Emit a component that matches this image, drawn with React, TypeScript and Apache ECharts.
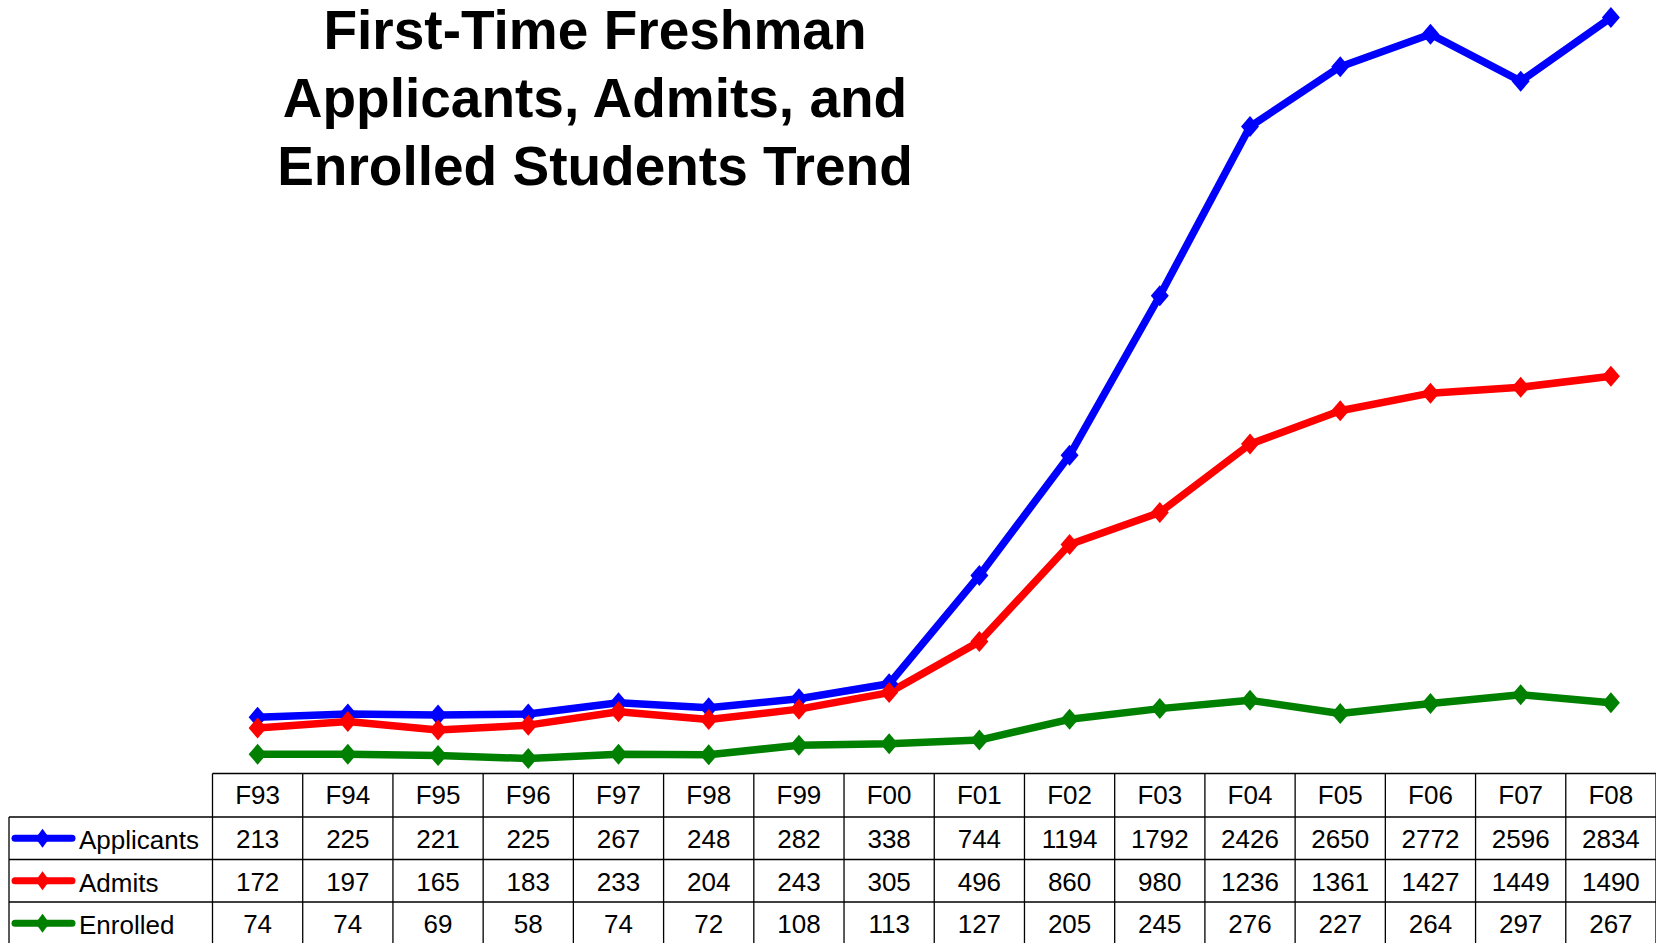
import React, { useEffect, useRef } from "react";
import * as echarts from "echarts";

const categories = ["F93", "F94", "F95", "F96", "F97", "F98", "F99", "F00", "F01", "F02", "F03", "F04", "F05", "F06", "F07", "F08"];
const applicants = [213, 225, 221, 225, 267, 248, 282, 338, 744, 1194, 1792, 2426, 2650, 2772, 2596, 2834];
const admits = [172, 197, 165, 183, 233, 204, 243, 305, 496, 860, 980, 1236, 1361, 1427, 1449, 1490];
const enrolled = [74, 74, 69, 58, 74, 72, 108, 113, 127, 205, 245, 276, 227, 264, 297, 267];
const seriesNames = ["Applicants", "Admits", "Enrolled"];
const seriesColors = ["#0000FF", "#FF0000", "#008000"];
const titleLines = ["First-Time Freshman", "Applicants, Admits, and", "Enrolled Students Trend"];

const FONT = '"Liberation Sans", Arial, sans-serif';

export default function App() {
  const ref = useRef<HTMLDivElement>(null);
  useEffect(() => {
    document.body.style.margin = "0";
    const el = ref.current!;
    const chart = echarts.init(el, null, { renderer: "svg" });
    const allData = [applicants, admits, enrolled];
    chart.setOption({
      animation: false,
      backgroundColor: "#ffffff",
      grid: { left: 212.5, width: 1448, top: 0, height: 774 },
      xAxis: { type: "category", data: categories, show: false, boundaryGap: true },
      yAxis: { type: "value", min: 0, max: 2900, show: false },
      series: seriesNames.map((name, k) => ({
        name,
        type: "line",
        data: allData[k],
        symbol: "diamond",
        symbolSize: [18, 21],
        clip: false,
        lineStyle: { width: 7.5, color: seriesColors[k] },
        itemStyle: { color: seriesColors[k] },
      })),
    });

    const xs = categories.map((c, i) => chart.convertToPixel({ xAxisIndex: 0 }, i) as number);
    const band = xs.length > 1 ? xs[1] - xs[0] : 90.5;
    const top = (chart.convertToPixel({ yAxisIndex: 0 }, 0) as number) - 0.5;
    const rowLines = [top, top + 43.5, top + 86, top + 128.5, top + 171];
    const tableRight = xs[xs.length - 1] + band / 2;
    const tableLeft = xs[0] - band / 2;
    const legendLeft = 9;
    const lineStyle = { stroke: "#000000", lineWidth: 1.3 };
    const els: any[] = [];

    // title
    titleLines.forEach((t, i) => {
      els.push({
        type: "text",
        x: 595,
        y: 30 + i * 68,
        style: {
          text: t,
          font: `bold 55px ${FONT}`,
          fill: "#000",
          textAlign: "center",
          textVerticalAlign: "middle",
        },
      });
    });

    // horizontal lines
    els.push({ type: "line", shape: { x1: tableLeft, y1: rowLines[0], x2: tableRight, y2: rowLines[0] }, style: lineStyle });
    for (let r = 1; r < rowLines.length; r++) {
      const y = rowLines[r];
      els.push({ type: "line", shape: { x1: legendLeft, y1: y, x2: tableRight, y2: y }, style: lineStyle });
    }
    // vertical lines
    for (let i = 0; i <= categories.length; i++) {
      const x = tableLeft + i * band;
      els.push({ type: "line", shape: { x1: x, y1: rowLines[0], x2: x, y2: rowLines[4] }, style: lineStyle });
    }
    els.push({ type: "line", shape: { x1: legendLeft, y1: rowLines[1], x2: legendLeft, y2: rowLines[4] }, style: lineStyle });

    // header text
    categories.forEach((c, i) => {
      els.push({
        type: "text",
        x: xs[i],
        y: (rowLines[0] + rowLines[1]) / 2,
        style: { text: c, font: `26px ${FONT}`, fill: "#000", textAlign: "center", textVerticalAlign: "middle" },
      });
    });
    // rows
    seriesNames.forEach((name, k) => {
      const cy = (rowLines[k + 1] + rowLines[k + 2]) / 2;
      allData[k].forEach((v, i) => {
        els.push({
          type: "text",
          x: xs[i],
          y: cy + 1,
          style: { text: String(v), font: `26px ${FONT}`, fill: "#000", textAlign: "center", textVerticalAlign: "middle" },
        });
      });
      els.push({
        type: "line",
        shape: { x1: 15, y1: cy, x2: 72, y2: cy },
        style: { stroke: seriesColors[k], lineWidth: 7, lineCap: "round" },
      });
      els.push({
        type: "polygon",
        shape: { points: [[42.5, cy - 9.5], [49.5, cy], [42.5, cy + 9.5], [35.5, cy]] },
        style: { fill: seriesColors[k] },
      });
      els.push({
        type: "text",
        x: 79,
        y: cy + 2,
        style: { text: name, font: `26px ${FONT}`, fill: "#000", textAlign: "left", textVerticalAlign: "middle" },
      });
    });

    chart.setOption({ graphic: { elements: els } });
    return () => chart.dispose();
  }, []);
  return <div ref={ref} style={{ width: 1656, height: 943 }} />;
}
